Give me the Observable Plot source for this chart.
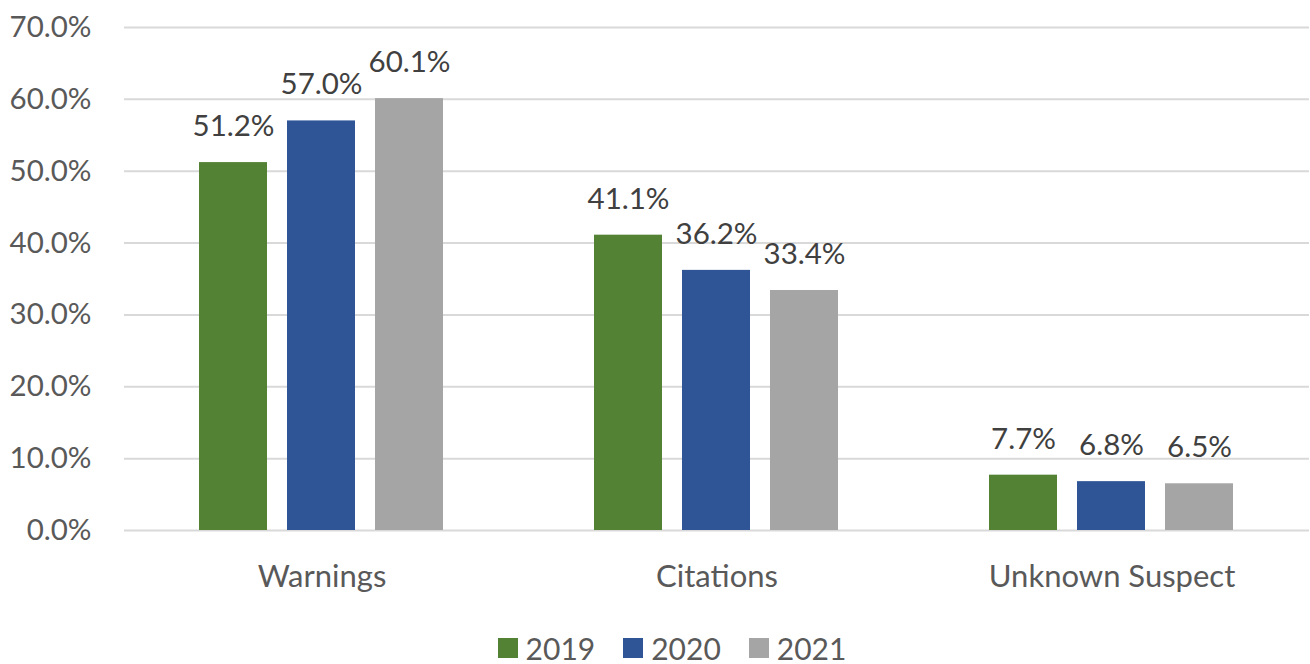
<!DOCTYPE html>
<html>
<head>
<meta charset="utf-8">
<script src="https://cdn.jsdelivr.net/npm/d3@7"></script>
<script src="https://cdn.jsdelivr.net/npm/@observablehq/plot@0.6"></script>
<style>
  body { margin: 0; background: #fff; font-family: Lato, "Open Sans", sans-serif; }
  #legend { display: flex; justify-content: center; align-items: center; height: 36px; margin-top: 34px; padding-left: 34px; font-size: 30px; line-height: 36px; color: #595959; }
  .item { display: flex; align-items: center; margin: 0 14px; }
  .sw { width: 20px; height: 20px; margin-right: 8px; }
</style>
</head>
<body>
<div id="chart"></div>
<div id="legend"></div>
<script>
const categories = ["Warnings", "Citations", "Unknown Suspect"];
const years = ["2019", "2020", "2021"];
const values2019 = [51.2, 41.1, 7.7];
const values2020 = [57.0, 36.2, 6.8];
const values2021 = [60.1, 33.4, 6.5];
const yTicks = [0, 10, 20, 30, 40, 50, 60, 70];
const colors = ["#548235", "#2F5597", "#A5A5A5"];

const series = [values2019, values2020, values2021];
const data = [];
categories.forEach((c, i) => years.forEach((y, j) => data.push({category: c, year: y, value: series[j][i]})));

const chart = Plot.plot({
  width: 1310,
  height: 596,
  marginLeft: 123,
  marginRight: 0,
  marginTop: 27,
  marginBottom: 66,
  style: {fontFamily: "Lato, 'Open Sans', sans-serif", fontSize: "29px", color: "#595959", background: "#fff", display: "block"},
  fx: {domain: categories, padding: 0, label: null},
  x: {domain: years, paddingInner: 0.223, paddingOuter: 0.85, axis: null},
  y: {domain: [0, 70], axis: null},
  color: {domain: years, range: colors},
  marks: [
    Plot.ruleY(yTicks, {stroke: "#D9D9D9", strokeWidth: 2}),
    Plot.barY(data, {fx: "category", x: "year", y: "value", fill: "year"}),
    Plot.text(data, {fx: "category", x: "year", y: "value", text: d => d.value.toFixed(1) + "%", dy: -36, fill: "#404040", fontSize: 29.5}),
    Plot.axisY({ticks: yTicks, tickFormat: d => d.toFixed(1) + "%", tickSize: 0, tickPadding: 33, fontSize: 29.5, fill: "#595959", facetAnchor: "left", label: null}),
    Plot.axisFx({anchor: "bottom", tickSize: 0, tickPadding: 34, fontSize: 31, fill: "#595959", label: null})
  ]
});
document.getElementById("chart").appendChild(chart);

const legend = document.getElementById("legend");
years.forEach((y, i) => {
  const it = document.createElement("div");
  it.className = "item";
  it.innerHTML = `<div class="sw" style="background:${colors[i]}"></div><span>${y}</span>`;
  legend.appendChild(it);
});
</script>
</body>
</html>
